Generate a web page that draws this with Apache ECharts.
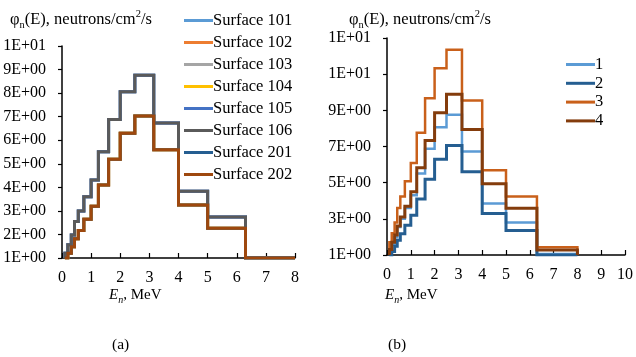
<!DOCTYPE html>
<html>
<head>
<meta charset="utf-8">
<script src="https://cdn.jsdelivr.net/npm/echarts@6/dist/echarts.min.js"></script>
<style>
  html, body { margin: 0; padding: 0; background: #fff; }
  #chart { width: 636px; height: 357px; }
</style>
</head>
<body>
<div id="chart"></div>
<script>
  // energy bin edges, MeV
  var edges = [0.1, 0.2, 0.32, 0.43, 0.56, 0.75, 1.0, 1.25, 1.6, 2.0, 2.5, 3.15, 4.0, 5.0, 6.3, 8.0];

  // (a) flux per bin for each surface
  var surfaceNames = ['Surface 101', 'Surface 102', 'Surface 103', 'Surface 104',
    'Surface 105', 'Surface 106', 'Surface 201', 'Surface 202'];
  var flux101 = [1.2, 1.56, 1.98, 2.55, 3.0, 3.6, 4.31, 5.51, 6.88, 8.06, 8.76, 6.73, 3.83, 2.74, 1.0];
  var flux102 = [1.0, 1.2, 1.48, 1.82, 2.17, 2.64, 3.2, 4.1, 5.19, 6.3, 7.03, 5.6, 3.25, 2.26, 1.0];
  var flux103 = [1.2, 1.56, 1.98, 2.55, 3.0, 3.6, 4.31, 5.51, 6.88, 8.06, 8.76, 6.73, 3.83, 2.74, 1.0];
  var flux104 = [1.0, 1.2, 1.48, 1.82, 2.17, 2.64, 3.2, 4.1, 5.19, 6.3, 7.03, 5.6, 3.25, 2.26, 1.0];
  var flux105 = [1.2, 1.56, 1.98, 2.55, 3.0, 3.6, 4.31, 5.51, 6.88, 8.06, 8.76, 6.73, 3.83, 2.74, 1.0];
  var flux106 = [1.2, 1.56, 1.98, 2.55, 3.0, 3.6, 4.31, 5.51, 6.88, 8.06, 8.76, 6.73, 3.83, 2.74, 1.0];
  var flux201 = [1.0, 1.2, 1.48, 1.82, 2.17, 2.64, 3.2, 4.1, 5.19, 6.3, 7.03, 5.6, 3.25, 2.26, 1.0];
  var flux202 = [1.0, 1.2, 1.48, 1.82, 2.17, 2.64, 3.2, 4.1, 5.19, 6.3, 7.03, 5.6, 3.25, 2.26, 1.0];

  // (b) four cases
  var caseNames = ['1', '2', '3', '4'];
  var case1 = [1.2, 1.56, 1.98, 2.55, 3.0, 3.6, 4.31, 5.51, 6.88, 8.06, 8.76, 6.73, 3.85, 2.8, 1.06];
  var case2 = [1.0, 1.2, 1.48, 1.82, 2.17, 2.64, 3.2, 4.1, 5.19, 6.3, 7.05, 5.6, 3.3, 2.35, 1.0];
  var case3 = [1.7, 2.2, 2.8, 3.6, 4.24, 5.08, 6.09, 7.76, 9.67, 11.33, 12.35, 9.55, 5.68, 4.24, 1.43];
  var case4 = [1.3, 1.7, 2.1, 2.6, 3.1, 3.7, 4.5, 5.82, 7.33, 8.87, 9.89, 7.94, 4.94, 3.59, 1.28];

  var serif = '"Liberation Serif", "Times New Roman", serif';
  var base = 1;

  // histogram outline: start on the baseline, step through bins, drop back at the end
  function stepData(vals) {
    var pts = [[edges[0], base]];
    for (var i = 0; i < vals.length; i++) {
      pts.push([edges[i], vals[i]]);
    }
    pts.push([edges[edges.length - 1], vals[vals.length - 1]]);
    pts.push([edges[edges.length - 1], base]);
    return pts;
  }

  // Excel "0E+00" style
  function sci(v) {
    var s = Number(v).toExponential(0).split('e');
    var e = parseInt(s[1], 10);
    return s[0] + 'E' + (e < 0 ? '-' : '+') + (Math.abs(e) < 10 ? '0' : '') + Math.abs(e);
  }

  function xAxis(idx, max) {
    return {
      type: 'value', gridIndex: idx, min: 0, max: max, interval: 1,
      axisLine: { onZero: false, lineStyle: { color: '#000', width: 1.5 } },
      axisTick: { inside: true, length: 5, lineStyle: { color: '#000', width: 1.2 } },
      axisLabel: { color: '#000', fontFamily: serif, fontSize: 16, margin: 12 },
      splitLine: { show: false }
    };
  }

  function yAxis(idx, max, step) {
    return {
      type: 'value', gridIndex: idx, min: 1, max: max, interval: step,
      axisLine: { show: true, lineStyle: { color: '#000', width: 1.5 } },
      axisTick: { show: true, length: 4, lineStyle: { color: '#000', width: 1.2 } },
      axisLabel: { color: '#000', fontFamily: serif, fontSize: 16, margin: 16, formatter: sci },
      splitLine: { show: false }
    };
  }

  var leftColors = ['#5B9BD5', '#ED7D31', '#A5A5A5', '#FFC000', '#4472C4', '#5A5A5A', '#255E91', '#9E480E'];
  var leftFlux = [flux101, flux102, flux103, flux104, flux105, flux106, flux201, flux202];
  var rightColors = ['#5B9BD5', '#255E91', '#C9601A', '#843C0C'];
  var rightWidth = [2.5, 3, 2.5, 3];
  var rightFlux = [case1, case2, case3, case4];

  var series = [];
  surfaceNames.forEach(function (name, i) {
    series.push({
      name: name, type: 'line', xAxisIndex: 0, yAxisIndex: 0, step: 'end',
      showSymbol: false, symbol: 'none',
      lineStyle: { color: leftColors[i], width: 3, join: 'miter' },
      itemStyle: { color: leftColors[i] },
      data: stepData(leftFlux[i])
    });
  });
  caseNames.forEach(function (name, i) {
    series.push({
      name: name, type: 'line', xAxisIndex: 1, yAxisIndex: 1, step: 'end',
      showSymbol: false, symbol: 'none',
      lineStyle: { color: rightColors[i], width: rightWidth[i], join: 'miter' },
      itemStyle: { color: rightColors[i] },
      data: stepData(rightFlux[i])
    });
  });

  var titleRich = {
    a: { fontFamily: serif, fontSize: 16.5, color: '#000', lineHeight: 22 },
    s: { fontFamily: serif, fontSize: 10.5, color: '#000', verticalAlign: 'bottom', lineHeight: 22 },
    p: { fontFamily: serif, fontSize: 10.5, color: '#000', verticalAlign: 'top', lineHeight: 22 }
  };
  var nameRich = {
    e: { fontFamily: serif, fontSize: 15, fontStyle: 'italic', color: '#000', lineHeight: 20 },
    s: { fontFamily: serif, fontSize: 10, fontStyle: 'italic', color: '#000', verticalAlign: 'bottom', lineHeight: 20 },
    a: { fontFamily: serif, fontSize: 15, color: '#000', lineHeight: 20 }
  };

  var chart = echarts.init(document.getElementById('chart'));
  chart.setOption({
    animation: false,
    backgroundColor: '#fff',
    grid: [
      { left: 62, right: 341, top: 46, bottom: 99 },
      { left: 387, right: 11, top: 38, bottom: 102 }
    ],
    xAxis: [xAxis(0, 8), xAxis(1, 10)],
    yAxis: [yAxis(0, 10, 1), yAxis(1, 13, 2)],
    legend: [
      {
        data: surfaceNames, orient: 'vertical', left: 179, top: 7,
        icon: 'rect', itemWidth: 29, itemHeight: 3, itemGap: 5,
        textStyle: { fontFamily: serif, fontSize: 16.5, color: '#000', padding: [0, 0, 0, -5] }
      },
      {
        data: caseNames, orient: 'vertical', left: 561, top: 51,
        icon: 'rect', itemWidth: 29, itemHeight: 3, itemGap: 1.8,
        textStyle: { fontFamily: serif, fontSize: 16.5, color: '#000', padding: [0, 0, 0, -5] }
      }
    ],
    graphic: [
      { type: 'text', left: 10, top: 9, style: { text: '{a|φ}{s|n}{a|(E), neutrons/cm}{p|2}{a|/s}', rich: titleRich } },
      { type: 'text', left: 349, top: 9, style: { text: '{a|φ}{s|n}{a|(E), neutrons/cm}{p|2}{a|/s}', rich: titleRich } },
      { type: 'text', left: 109, top: 288, style: { text: '{e|E}{s|n}{a|, MeV}', rich: nameRich } },
      { type: 'text', left: 385, top: 288, style: { text: '{e|E}{s|n}{a|, MeV}', rich: nameRich } },
      { type: 'text', left: 112, top: 337, style: { text: '(a)', fontFamily: serif, fontSize: 15.5, fill: '#000' } },
      { type: 'text', left: 388, top: 337, style: { text: '(b)', fontFamily: serif, fontSize: 15.5, fill: '#000' } }
    ],
    series: series
  });
</script>
</body>
</html>
